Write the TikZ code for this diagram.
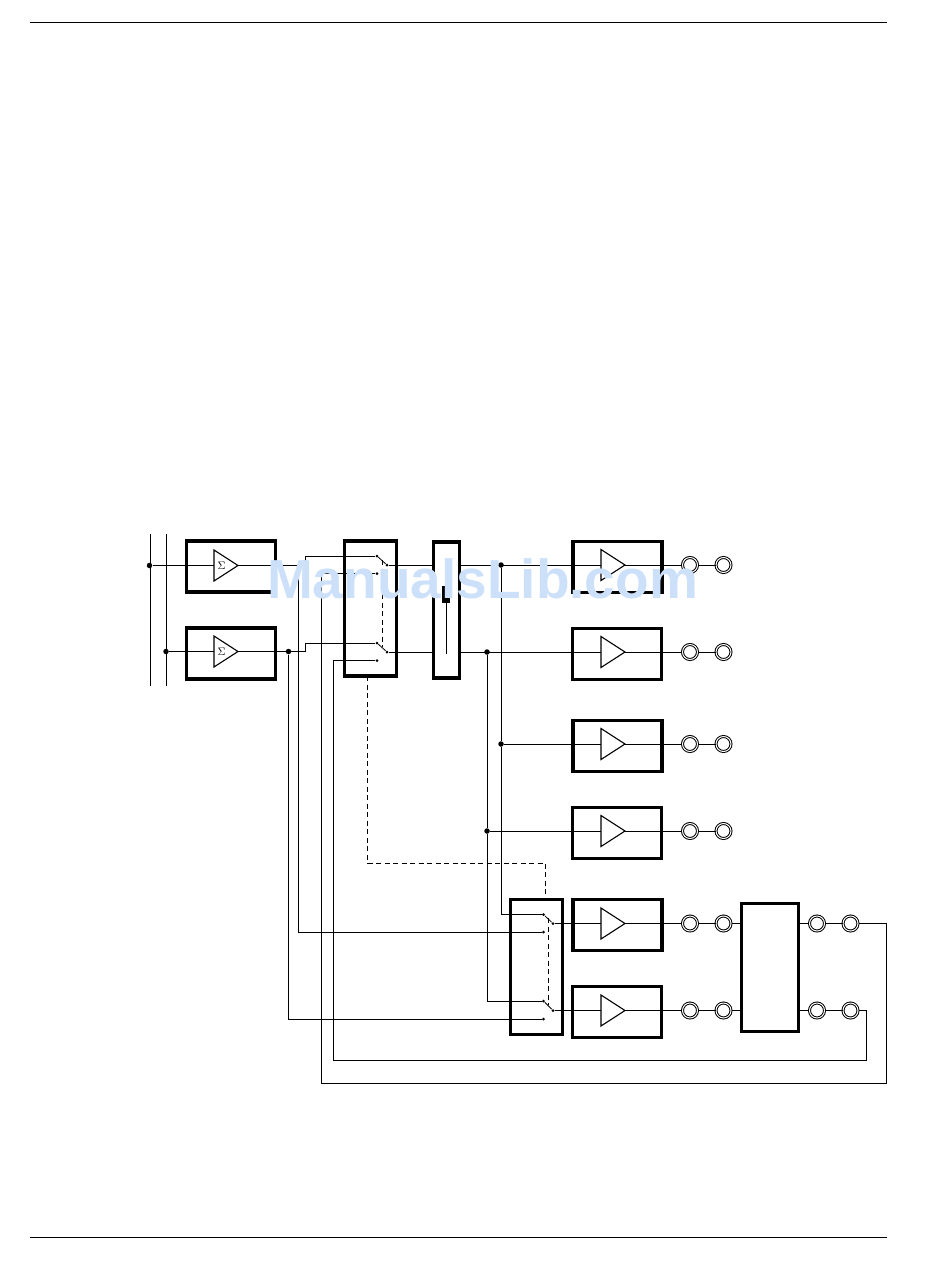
\documentclass[tikz,border=0pt]{standalone}
\usepackage{fontspec}
\newfontfamily\markfont{Liberation Sans}
\usepackage{xcolor}
\usetikzlibrary{positioning, shapes.geometric}
\definecolor{markblue}{HTML}{CCE0FA}

\begin{document}
\begin{tikzpicture}[-,x=1pt,y=-1pt,line width=0.8pt,node distance=33.5pt,
                    box node/.style={rectangle,draw,line width=3.2pt,outer sep=0pt,minimum width=89pt,minimum height=51pt},
                    switch node/.style={box node,minimum width=52pt,minimum height=135pt},
                    amp node/.style={isosceles triangle,isosceles triangle stretches,draw,line width=1.1pt,inner sep=0pt,outer sep=0pt,
                                     minimum width=31pt,minimum height=24pt,anchor=lower side},
                    jack node/.style={circle,draw,fill=white,double,double distance=1pt,line width=1pt,inner sep=0pt,minimum size=15pt},
                    dot node/.style={circle,fill=black,inner sep=0pt,minimum size=5.5pt},
                    contact node/.style={circle,fill=black,inner sep=0pt,minimum size=3pt},
                    ctrl line/.style={dash pattern=on 5pt off 3.5pt,line width=0.7pt}]
  \useasboundingbox (0,0) rectangle (950,1267);

  % page rules
  \coordinate (rt1) at (30,22);
  \coordinate (rt2) at (887,22);
  \coordinate (rb1) at (30,1237);
  \coordinate (rb2) at (887,1237);
  \draw (rt1) -- (rt2);
  \draw (rb1) -- (rb2);

  % blocks
  \node[box node] (sum1) at (231,566.5) {};
  \node[box node] (sum2) at (231,653.5) {};
  \node[switch node] (sw1) at (370.5,608.5) {};
  \node[switch node,minimum width=26pt,minimum height=136pt] (split) at (446.5,610) {};
  \node[box node] (amp1) at (617.5,566.7) {};
  \node[box node] (amp2) at (617,654) {};
  \node[box node] (amp3) at (617.5,746) {};
  \node[box node] (amp4) at (617,833) {};
  \node[box node] (amp5) at (617.5,925.3) {};
  \node[box node] (amp6) at (617,1011.7) {};
  \node[switch node] (sw2) at (536.3,966.8) {};
  \node[switch node,minimum width=57pt,minimum height=128pt] (out) at (770,967.5) {};

  % triangles
  \node[amp node] (tri1) at (214,565.5) {};
  \node[amp node] (tri2) at (214,651.5) {};
  \node[amp node] (tri3) at (601,565) {};
  \node[amp node] (tri4) at (601,652) {};
  \node[amp node] (tri5) at (601,744) {};
  \node[amp node] (tri6) at (601,831) {};
  \node[amp node] (tri7) at (601,923.5) {};
  \node[amp node] (tri8) at (601,1010.5) {};
  \node[font=\fontsize{11}{11}\selectfont] (sig1) at (221.5,565.5) {$\Sigma$};
  \node[font=\fontsize{11}{11}\selectfont] (sig2) at (221.5,651.5) {$\Sigma$};

  % jacks
  \node[jack node] (j1) at (690,565) {};
  \node[jack node] (j2) [right of=j1] {};
  \node[jack node] (j3) at (690,652) {};
  \node[jack node] (j4) [right of=j3] {};
  \node[jack node] (j5) at (690,744) {};
  \node[jack node] (j6) [right of=j5] {};
  \node[jack node] (j7) at (690,831) {};
  \node[jack node] (j8) [right of=j7] {};
  \node[jack node] (j9) at (690,923.5) {};
  \node[jack node] (j10) [right of=j9] {};
  \node[jack node] (j11) at (690,1010.5) {};
  \node[jack node] (j12) [right of=j11] {};
  \node[jack node] (j13) at (817,923.5) {};
  \node[jack node] (j14) [right of=j13] {};
  \node[jack node] (j15) at (817,1010.5) {};
  \node[jack node] (j16) [right of=j15] {};

  % junctions
  \node[dot node] (in1) at (149.5,565.5) {};
  \node[dot node] (in2) at (166,651.5) {};
  \node[dot node] (d1) at (288.5,651.5) {};
  \node[dot node] (d2) at (501,565) {};
  \node[dot node] (d3) at (487,652) {};
  \node[dot node] (d4) at (501,744) {};
  \node[dot node] (d5) at (487,831) {};

  % switch contacts
  \node[contact node] (c1) at (377,556) {};
  \node[contact node] (c2) at (377,573.5) {};
  \node[contact node] (c3) at (387,565) {};
  \node[contact node] (c4) at (377,643) {};
  \node[contact node] (c5) at (377,660.5) {};
  \node[contact node] (c6) at (387,652) {};
  \node[contact node] (c7) at (543.5,914.5) {};
  \node[contact node] (c8) at (543.5,932) {};
  \node[contact node] (c9) at (553,923.5) {};
  \node[contact node] (c10) at (543.5,1001) {};
  \node[contact node] (c11) at (543.5,1019) {};
  \node[contact node] (c12) at (553,1010.5) {};

  % free ends and corners
  \coordinate (bus1a) at (150,534);
  \coordinate (bus1b) at (150,686);
  \coordinate (bus2a) at (166,534);
  \coordinate (bus2b) at (166,686);
  \coordinate (t1) at (298.5,565.5);
  \coordinate (t2) at (305.5,565.5);
  \coordinate (t3) at (305.5,651.5);
  \coordinate (r1) at (321.5,1083);
  \coordinate (r2) at (886,1083);
  \coordinate (r3) at (886,923.5);
  \coordinate (r4) at (333,1060.5);
  \coordinate (r5) at (866,1060.5);
  \coordinate (r6) at (866,1010.5);
  \coordinate (m1) at (446,600);
  \coordinate (m2) at (446,654);
  \coordinate (m3) at (442,586);
  \coordinate (m4) at (445,600);
  \coordinate (m5) at (442,598);
  \coordinate (m6) at (450,603);
  \coordinate (q1) at (382,560);
  \coordinate (q2) at (382,647);
  \coordinate (q3) at (548,918);
  \coordinate (q4) at (548,1005);
  \coordinate (q5) at (367.5,863);
  \coordinate (q6) at (545.5,863);

  % connections
  \draw (bus1a) -- (bus1b);
  \draw (bus2a) -- (bus2b);
  \path
    (in1) edge (tri1.lower side)
    (in2) edge (tri2.lower side)
    (tri1.apex) edge (t2)
    (tri2.apex) edge (t3)
    (c3) edge (split.west |- c3)
    (c6) edge (split.west |- c6)
    (split.east |- d2) edge (tri3.lower side)
    (split.east |- d3) edge (tri4.lower side)
    (d4) edge (tri5.lower side)
    (d5) edge (tri6.lower side)
    (c9) edge (tri7.lower side)
    (c12) edge (tri8.lower side)
    (c1) edge (c3)
    (c4) edge (c6)
    (c7) edge (c9)
    (c10) edge (c12)
    (tri3.apex) edge (j1)
    (tri4.apex) edge (j3)
    (tri5.apex) edge (j5)
    (tri6.apex) edge (j7)
    (tri7.apex) edge (j9)
    (tri8.apex) edge (j11)
    (j1) edge (j2)
    (j3) edge (j4)
    (j5) edge (j6)
    (j7) edge (j8)
    (j9) edge (j10)
    (j11) edge (j12)
    (j13) edge (j14)
    (j15) edge (j16)
    (j10) edge (out.west |- j10)
    (j12) edge (out.west |- j12)
    (out.east |- j13) edge (j13)
    (out.east |- j15) edge (j15)
    (d2) edge (d4)
    (d3) edge (d5)
    ;
  \draw (t2) |- (c1);
  \draw (t3) |- (c4);
  \draw (t1) |- (c8);
  \draw (d1) |- (c11);
  \draw (d4) |- (c7);
  \draw (d5) |- (c10);
  \draw (c2) -| (r1) -- (r2) -- (r3) -- (j14);
  \draw (c5) -| (r4) -- (r5) -- (r6) -- (j16);

  % mechanical links
  \draw[ctrl line] (q1) -- (q2);
  \draw[ctrl line] (q3) -- (q4);
  \draw[ctrl line] (sw1.south -| q5) -- (q5) -- (q6) -- (sw2.north -| q6);

  % slider in the narrow block
  \draw (m1) -- (m2);
  \fill (m3) rectangle (m4);
  \fill (m5) rectangle (m6);

  % watermark
  \node[font=\markfont\bfseries\fontsize{55}{55}\selectfont,text=markblue,inner sep=0pt] (mark) at (482.5,579) {ManualsLib.com};
\end{tikzpicture}
\end{document}
